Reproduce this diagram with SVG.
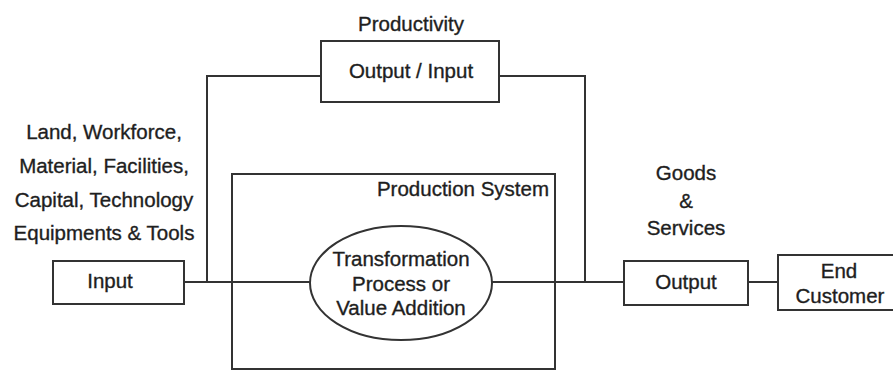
<svg xmlns="http://www.w3.org/2000/svg" width="893" height="370" viewBox="0 0 893 370">
<style>
.box{fill:#fff;stroke:#333;stroke-width:2}
.ln{fill:none;stroke:#333;stroke-width:2}
text{font-family:"Liberation Sans",Arial,sans-serif;font-size:20.5px;fill:#1e1e1e;stroke:#1e1e1e;stroke-width:0.35;text-anchor:middle}
</style>
<rect width="893" height="370" fill="#fff"/>
<g id="connectors">
<polyline class="ln" points="321,76 207,76 207,282"/>
<polyline class="ln" points="499,76 585,76 585,282"/>
<line class="ln" x1="184" y1="282" x2="310" y2="282"/>
<line class="ln" x1="492" y1="282" x2="624" y2="282"/>
<line class="ln" x1="748" y1="282" x2="778" y2="282"/>
</g>
<g id="productivity">
<text x="411" y="31">Productivity</text>
<rect class="box" x="321" y="41" width="178" height="61"/>
<text x="411" y="78">Output / Input</text>
</g>
<g id="inputs-label">
<text x="104" y="139">Land, Workforce,</text>
<text x="104" y="173">Material, Facilities,</text>
<text x="104" y="207">Capital, Technology</text>
<text x="104" y="240">Equipments &amp; Tools</text>
</g>
<g id="production-system">
<rect class="ln" x="232" y="174" width="323" height="195"/>
<text x="549" y="196" style="text-anchor:end">Production System</text>
</g>
<g id="input">
<rect class="box" x="53" y="261" width="131" height="43"/>
<text x="110" y="288">Input</text>
</g>
<g id="transformation">
<ellipse class="box" cx="401" cy="283" rx="91" ry="57"/>
<text x="401" y="266">Transformation</text>
<text x="401" y="291">Process or</text>
<text x="401" y="315">Value Addition</text>
</g>
<g id="goods-label">
<text x="686" y="180">Goods</text>
<text x="686" y="208">&amp;</text>
<text x="686" y="235">Services</text>
</g>
<g id="output">
<rect class="box" x="624" y="261" width="124" height="44"/>
<text x="686" y="289">Output</text>
</g>
<g id="end-customer">
<rect class="box" x="778" y="255" width="125" height="55"/>
<text x="839" y="278">End</text>
<text x="840" y="303">Customer</text>
</g>
</svg>
